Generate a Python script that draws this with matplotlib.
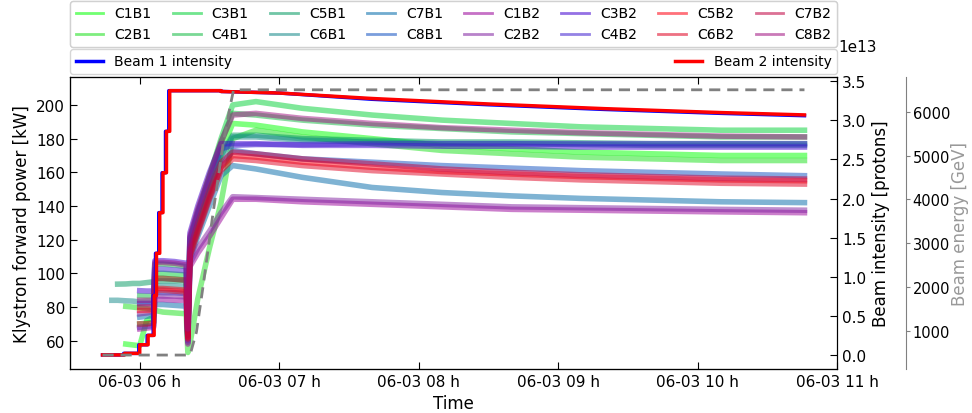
import numpy as np
import matplotlib
matplotlib.use('Agg')
import matplotlib.pyplot as plt
import matplotlib.dates as mdates

n = np.nan
t0 = np.datetime64('2016-06-03T06:00')

# klystron time grid, minutes after 06:00
T_KLY = [-16, -12, -9.5, -6, -3, 0, 3, 6, 6.5, 10, 15, 20, 20.7, 21.6, 25, 30, 35, 40,
         50, 70, 100, 130, 160, 190, 220, 250, 286]

C1B1 = [n, n, n, 58, 57.5, 57, 72, 74, 97, 97, 96.5, 96, 62, 112, 128, 148, 172, 189, 188, 184, 180, 176, 174, 172, 171, 170, 170]
C2B1 = [n, n, n, 80.4, 80, 79.5, 79, 78.5, 78, 77, 76.5, 76, 53, 58, 85, 115, 142, 180, 185, 181, 177, 173, 171, 169, 168, 167, 167]
C3B1 = [n, n, n, n, n, 70, 70.5, 71, 100, 100, 99.5, 99, 64, 118, 135, 158, 180, 200, 202, 198, 194, 191, 189, 187, 186, 185, 185]
C4B1 = [n, n, n, n, n, 86.7, 86.5, 86.5, 105.5, 105.5, 105, 104, 66, 120, 137, 157, 178, 195, 194, 191, 188, 186, 184, 183, 182, 181, 181]
C5B1 = [n, n, 93.6, 93.7, 94, 94, 94.5, 95, 95.5, 95.5, 95.5, 95.5, 63, 114, 130, 150, 170, 182, 182, 180, 179, 178, 178, 177.5, 177, 177, 177]
C6B1 = [n, 84, 84, 83.7, 83.5, 83, 83, 83, 92.6, 92.5, 92.5, 92, 64, 112, 128, 148, 168, 181, 181, 179, 178, 177, 177, 176.5, 176, 176, 176]
C7B1 = [n, n, n, n, n, 74, 74.5, 75, 81.5, 81.5, 81, 80.5, 62, 108, 122, 140, 158, 164, 162, 157, 151, 148, 146, 144.5, 143.5, 142.5, 142]
C8B1 = [n, n, n, n, n, 68, 68.5, 69, 88.7, 88.5, 88.5, 88, 60, 110, 125, 145, 163, 173, 171, 168, 166, 164, 162.5, 161, 160, 159, 158]
C1B2 = [n, n, n, n, n, 67, 67.5, 68, 84.5, 84.5, 84, 84, 58, 104, 112, 122, 133, 144, 144, 142.5, 141, 139.5, 138, 137.5, 137, 136.5, 136]
C2B2 = [n, n, n, n, n, 76, 76.5, 77, 86.7, 86.5, 86.5, 86, 59, 106, 115, 125, 136, 145.5, 145, 144, 142.5, 141, 139.5, 139, 138.5, 138, 137.5]
C3B2 = [n, n, n, n, n, 89.7, 89.5, 89.5, 107.5, 107.5, 107, 106, 68, 124, 140, 160, 177, 177, 177, 176, 176, 175.5, 175.5, 175, 175, 175, 175]
C4B2 = [n, n, n, n, n, 82, 82, 82, 102.5, 102.5, 102, 101.5, 66, 121, 136, 155, 174, 176, 176.5, 176.5, 177, 177, 177, 177, 177, 177, 177]
C5B2 = [n, n, n, n, n, 78, 78, 78, 91, 91, 90.5, 90, 62, 112, 126, 146, 163, 170, 169, 166, 163, 160.5, 159, 157.5, 156.5, 155.5, 155]
C6B2 = [n, n, n, n, n, 70, 70, 70.5, 90, 90, 89.5, 89, 61, 110, 124, 144, 161, 168, 167, 164, 161, 159, 157, 155.5, 154.5, 153.5, 153]
C7B2 = [n, n, n, n, n, 80, 80, 80, 97, 97, 96.5, 96, 63, 115, 130, 150, 166, 172, 171, 168, 165, 162, 160, 158.5, 157.5, 156.5, 156]
C8B2 = [n, n, n, n, n, 84, 84, 84, 106.5, 106.5, 106, 105, 67, 122, 138, 158, 178, 194, 195, 192, 189, 186.5, 185, 183.5, 182.5, 181.5, 181]

cavities = ['C1B1', 'C2B1', 'C3B1', 'C4B1', 'C5B1', 'C6B1', 'C7B1', 'C8B1',
            'C1B2', 'C2B2', 'C3B2', 'C4B2', 'C5B2', 'C6B2', 'C7B2', 'C8B2']
kly_values = [C1B1, C2B1, C3B1, C4B1, C5B1, C6B1, C7B1, C8B1,
              C1B2, C2B2, C3B2, C4B2, C5B2, C6B2, C7B2, C8B2]
kly_colors = ['#00ff00', '#19e119', '#00d134', '#11bb41', '#009960', '#118888', '#0069a9', '#1151c1',
              '#990099', '#8020a0', '#4000d0', '#4020d0', '#ff0010', '#e00020', '#c00040', '#a01080']

# beam intensity (1e13 protons): injection steps, then slow decay
T_INJ_B2 = [-16, -6.5, 0, 3.6, 6.2, 7.2, 8.6, 10.0, 11.5, 12.9]
T_INJ_B1 = [-16, -6.9, -0.4, 3.2, 5.8, 6.8, 8.2, 9.6, 11.1, 12.5]
INJ = [0.0, 0.02, 0.13, 0.25, 0.76, 1.30, 1.82, 2.33, 2.86, 3.38]
T_DECAY = [35, 60, 100, 150, 200, 250, 286]
DECAY_B1 = [3.37, 3.35, 3.27, 3.20, 3.14, 3.09, 3.06]
DECAY_B2 = [3.37, 3.35, 3.28, 3.21, 3.15, 3.10, 3.07]

# beam energy (GeV)
T_ENERGY = [-16, 20.7, 22, 24.4, 27.3, 31.6, 36, 39, 40.3, 41, 286]
ENERGY = [450, 450, 520, 975, 2034, 3710, 5308, 6150, 6480, 6500, 6500]


def to_time(minutes):
    m = np.asarray(minutes, dtype=float)
    return t0 + (m * 60).astype('timedelta64[s]')


def step_then_decay(t_inj, v_inj, t_dec, v_dec):
    tt = list(np.repeat(t_inj, 2)[1:]) + [t_dec[0]] + list(t_dec)
    vv = list(np.repeat(v_inj, 2)[:-1]) + [v_inj[-1]] + list(v_dec)
    return to_time(tt), np.array(vv) * 1e13


fig = plt.figure(figsize=(9.72, 4.14), dpi=100)
ax = fig.add_axes([70 / 972, 44 / 414, 767 / 972, 292 / 414])
ax2 = ax.twinx()
ax3 = ax.twinx()

kly_lines = []
for name, vals, col in zip(cavities, kly_values, kly_colors):
    l, = ax.plot(to_time(T_KLY), vals, color=col, alpha=0.5, lw=4, label=name)
    kly_lines.append(l)

tb1, vb1 = step_then_decay(T_INJ_B1, INJ, T_DECAY, DECAY_B1)
tb2, vb2 = step_then_decay(T_INJ_B2, INJ, T_DECAY, DECAY_B2)
lb1, = ax2.plot(tb1, vb1, color='blue', lw=2.5, label='Beam 1 intensity')
lb2, = ax2.plot(tb2, vb2, color='red', lw=2.5, label='Beam 2 intensity')

ax3.plot(to_time(T_ENERGY), ENERGY, color='gray', lw=2, ls='--', dashes=(4, 2.5))

ax.set_xlim(to_time([-30])[0], to_time([300])[0])
ax.set_ylim(43.2, 216.6)
ax.set_yticks(range(60, 201, 20))
ax2.set_ylim(-0.18e13, 3.555e13)
ax2.set_yticks(np.arange(0, 3.51e13, 0.5e13))
ax3.set_ylim(132, 6792)
ax3.set_yticks(range(1000, 6001, 1000))

ax.xaxis.set_major_locator(mdates.HourLocator())
ax.xaxis.set_major_formatter(mdates.DateFormatter('%m-%d %H h'))

ax.tick_params(direction='in', top=True, labelsize=11, length=5)
ax2.tick_params(direction='in', labelsize=11, length=5)
# offset text placed by hand above the axes, beside the legends
ax2.yaxis.get_offset_text().set_visible(False)
fig.text(838 / 972, 1 - 47 / 414, '1e13', ha='left', va='center', fontsize=11)
ax3.spines['right'].set_position(('axes', 1.0895))
ax3.spines['right'].set_color('gray')
ax3.tick_params(direction='out', labelsize=10.5, length=3, pad=2, color='gray')

ax.set_xlabel('Time', fontsize=12)
ax.set_ylabel('Klystron forward power [kW]', fontsize=12)
ax2.set_ylabel('Beam intensity [protons]', fontsize=12)
ax3.set_ylabel('Beam energy [GeV]', fontsize=12, color='#999999', labelpad=1)

leg1 = ax.legend(handles=kly_lines, ncol=8, mode='expand', loc='lower left',
                 bbox_to_anchor=(0, 1.103, 1, 0.147), borderaxespad=0, fontsize=10)
for h in leg1.legend_handles:
    h.set_linewidth(2)
ax.add_artist(leg1)
ax3.legend(handles=[lb1, lb2], ncol=2, mode='expand', loc='lower left',
           bbox_to_anchor=(0, 1.0103, 1, 0.08), borderaxespad=0, fontsize=10)

fig.savefig('out.png', dpi=100)
